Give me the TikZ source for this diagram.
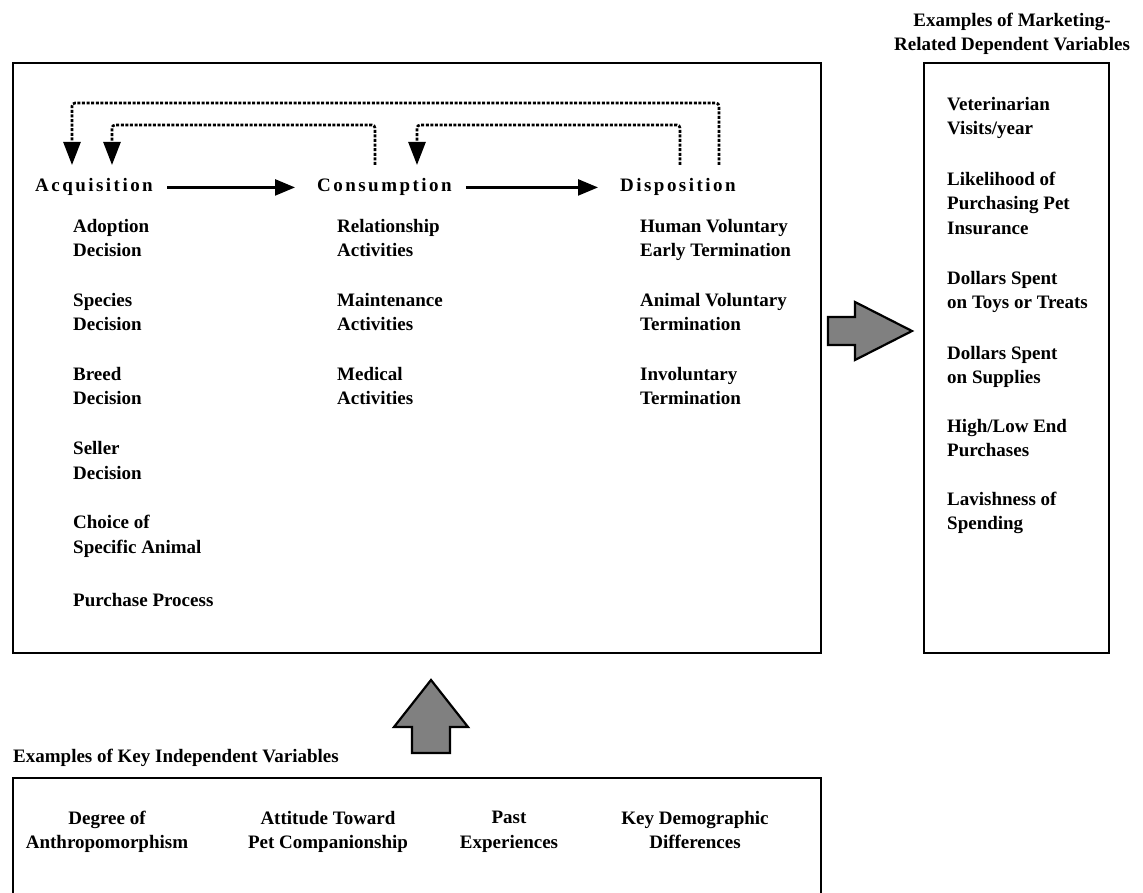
\documentclass[tikz,border=0pt]{standalone}
\usepackage{fontspec}
\setmainfont{Liberation Serif}
\newfontfamily\spacedfont[LetterSpace=13]{Liberation Serif}
\usetikzlibrary{arrows.meta}

\newcommand{\entryfont}{\fontsize{19}{24.7}\selectfont\bfseries}
\newcommand{\stagefont}{\fontsize{19}{24.7}\selectfont\spacedfont\bfseries}

\tikzstyle{panel} = [draw=black, line width=2.2pt, anchor=north west, inner sep=0pt]
\tikzstyle{stage} = [font=\stagefont, inner sep=0pt, anchor=base west]
\tikzstyle{entry} = [font=\entryfont, inner sep=0pt, anchor=north west, align=left, execute at begin node=\strut]
\tikzstyle{caption} = [font=\entryfont, inner sep=0pt, anchor=north, align=center, execute at begin node=\strut]
\tikzstyle{arrow} = [line width=2.4pt, -{Triangle[length=20pt,width=16pt]}, shorten <=14pt, shorten >=22pt]
\tikzstyle{feedback} = [line width=2.6pt, dash pattern=on 3pt off 1.6pt, rounded corners=3pt, -{Triangle[length=23pt,width=17pt]}]
\tikzstyle{fatarrow} = [draw=black, line width=2.2pt, fill=black!50, line join=miter]

\begin{document}
\begin{tikzpicture}[x=1pt, y=-1pt]
	\useasboundingbox (0,0) rectangle (1143,893);
	% Panels
	\node [panel, minimum width=808pt, minimum height=590pt] (stages) at (12,62) {};
	\node [panel, minimum width=185pt, minimum height=590pt] (outcomes) at (923,62) {};
	\node [panel, minimum width=808pt, minimum height=120pt] (inputs) at (12,777) {};
	\node [caption] (outcomestitle) at (1012,12.7) {Examples of Marketing-\\Related Dependent Variables};
	\node [entry, anchor=base west] (inputstitle) at (13,762) {Examples of Key Independent Variables};
	% Stages
	\node [stage] (acq) at (35,192) {Acquisition};
	\node [stage] (cons) at (317,192) {Consumption};
	\node [stage] (disp) at (620,192) {Disposition};
	\draw [arrow] (acq) -- (cons);
	\draw [arrow] (cons) -- (disp);
	% Feedback loops
	\coordinate (dispout) at (719,165);
	\coordinate (dispin) at (680,165);
	\coordinate (consout) at (375,165);
	\coordinate (consin) at (417,165);
	\coordinate (acqfar) at (72,165);
	\coordinate (acqnear) at (112,165);
	\draw [feedback] (dispout) -- ++(0,-62) -| (acqfar);
	\draw [feedback] (consout) -- ++(0,-40) -| (acqnear);
	\draw [feedback] (dispin) -- ++(0,-40) -| (consin);
	% Acquisition entries
	\node [entry] (adoption) at (73,218.7) {Adoption\\Decision};
	\node [entry] (species) at (73,292.8) {Species\\Decision};
	\node [entry] (breed) at (73,366.9) {Breed\\Decision};
	\node [entry] (seller) at (73,441.0) {Seller\\Decision};
	\node [entry] (choice) at (73,515.1) {Choice of\\Specific Animal};
	\node [entry] (purchase) at (73,589.2) {Purchase Process};
	% Consumption entries
	\node [entry] (relationship) at (337,218.7) {Relationship\\Activities};
	\node [entry] (maintenance) at (337,292.8) {Maintenance\\Activities};
	\node [entry] (medical) at (337,366.9) {Medical\\Activities};
	% Disposition entries
	\node [entry] (humanvol) at (640,218.7) {Human Voluntary\\Early Termination};
	\node [entry] (animalvol) at (640,292.8) {Animal Voluntary\\Termination};
	\node [entry] (involuntary) at (640,366.9) {Involuntary\\Termination};
	% Dependent variables
	\node [entry] (vetvisits) at (947,96.7) {Veterinarian\\Visits/year};
	\node [entry] (insurance) at (947,171.7) {Likelihood of\\Purchasing Pet\\Insurance};
	\node [entry] (toys) at (947,270.7) {Dollars Spent\\on Toys or Treats};
	\node [entry] (supplies) at (947,345.7) {Dollars Spent\\on Supplies};
	\node [entry] (highlow) at (947,418.7) {High/Low End\\Purchases};
	\node [entry] (lavish) at (947,491.7) {Lavishness of\\Spending};
	% Independent variables
	\node [caption] (anthro) at (107,810.7) {Degree of\\Anthropomorphism};
	\node [caption] (attitude) at (328,810.7) {Attitude Toward\\Pet Companionship};
	\node [caption] (past) at (509,810.7) {Past\\Experiences};
	\node [caption] (demog) at (695,810.7) {Key Demographic\\Differences};
	% Block arrows
	\coordinate (rightarrow) at (828,331);
	\coordinate (uparrow) at (431,753);
	\draw [fatarrow] (rightarrow) ++(0,-14) -- ++(27,0) -- ++(0,-15) -- ++(57,29) -- ++(-57,29) -- ++(0,-15) -- ++(-27,0) -- cycle;
	\draw [fatarrow] (uparrow) ++(-19,0) -- ++(0,-26) -- ++(-18,0) -- ++(37,-47) -- ++(37,47) -- ++(-18,0) -- ++(0,26) -- cycle;
\end{tikzpicture}
\end{document}
